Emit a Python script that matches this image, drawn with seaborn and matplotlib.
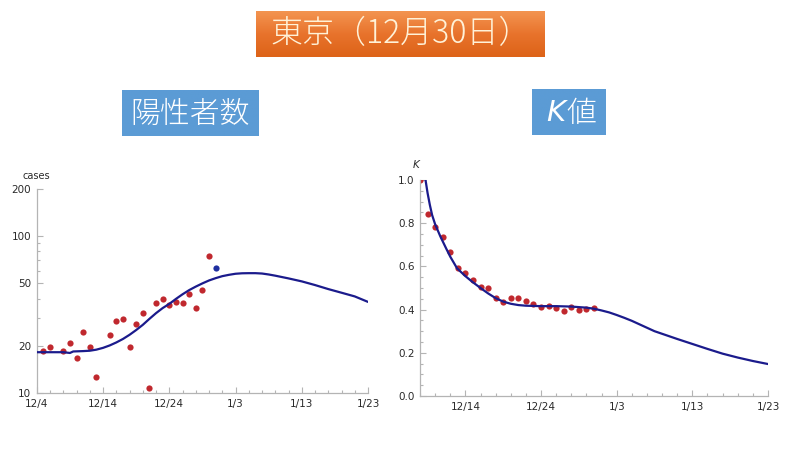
import numpy as np
import pandas as pd
import matplotlib
matplotlib.use("Agg")
import matplotlib.pyplot as plt
import matplotlib.ticker as mticker
from matplotlib.colors import LinearSegmentedColormap
import seaborn as sns

# ---------------- data (day 0 = 12/4) ----------------
case_days = [1, 2, 4, 5, 6, 7, 8, 9, 11, 12, 13, 14, 15, 16, 17, 18, 19, 20, 21, 22, 23, 24, 25, 26]
case_vals = [18.4, 19.7, 18.4, 20.7, 16.6, 24.6, 19.7, 12.6, 23.4, 28.8, 29.6, 19.7, 27.4, 32.5,
             10.8, 37.4, 39.5, 36.3, 38.2, 37.4, 42.5, 34.6, 45.3, 75.0]
latest_day = [27]
latest_val = [63.1]

fit_days = [0, 2, 4, 5, 5.5, 7, 8, 9, 10, 11, 12, 13, 14, 15, 16, 17, 18, 19, 20, 21, 22, 23, 24,
            25, 26, 27, 28, 29, 30, 31, 32, 33, 34, 35, 36, 38, 40, 42, 44, 46, 48, 50]
fit_vals = [18.2, 18.2, 18.2, 18.0, 18.4, 18.5, 18.6, 18.9, 19.4, 20.1, 21.0, 22.1, 23.5, 25.2,
            27.2, 29.7, 32.3, 34.8, 37.0, 39.8, 42.6, 45.3, 47.7, 50.0, 52.2, 54.0, 55.6, 56.7,
            57.6, 58.0, 58.1, 58.1, 57.8, 57.0, 56.0, 53.8, 51.5, 48.8, 46.0, 43.6, 41.3, 38.1]

k_days = [4, 5, 6, 7, 8, 9, 10, 11, 12, 13, 14, 15, 16, 17, 18, 19, 20, 21, 22, 23, 24, 25, 26, 27]
k_vals = [1.0, 0.841, 0.784, 0.736, 0.665, 0.591, 0.571, 0.537, 0.505, 0.500, 0.452, 0.437, 0.454,
          0.454, 0.441, 0.426, 0.410, 0.417, 0.406, 0.395, 0.412, 0.397, 0.401, 0.407]

kfit_days = [4.73, 5.0, 5.3, 5.6, 6.0, 6.7, 7.5, 8.0, 8.9, 10, 10.9, 12, 13, 14, 15, 16, 17, 18, 20,
             22, 24, 26, 27, 28, 29, 30, 31, 32, 33, 34, 35, 36, 37, 38, 40, 42, 44, 46, 48, 50]
kfit_vals = [1.0, 0.94, 0.885, 0.838, 0.795, 0.738, 0.68, 0.645, 0.591, 0.555, 0.529, 0.50, 0.475,
             0.453, 0.437, 0.427, 0.421, 0.418, 0.416, 0.416, 0.414, 0.409, 0.404, 0.396, 0.387,
             0.375, 0.362, 0.348, 0.332, 0.316, 0.30, 0.288, 0.276, 0.264, 0.241, 0.218, 0.196,
             0.178, 0.162, 0.148]

left_tick_days = [0, 10, 20, 30, 40, 50]
left_tick_labels = ["12/4", "12/14", "12/24", "1/3", "1/13", "1/23"]
right_tick_days = [10, 20, 30, 40, 50]
right_tick_labels = ["12/14", "12/24", "1/3", "1/13", "1/23"]
case_yticks = [10, 20, 50, 100, 200]
k_yticks = [0.0, 0.2, 0.4, 0.6, 0.8, 1.0]

title_text = "東京（12月30日）"
left_title = "陽性者数"
right_title_k = "K"
right_title_rest = "値"

# ---------------- style ----------------
sns.set_theme(style="white")
plt.rcParams['font.family'] = ['DejaVu Sans', 'Noto Sans CJK JP']
RED = "#C0282E"
NAVY = "#1B1B8C"
BLUE_DOT = "#1F2FA0"
AXC = "#B4B4B4"
TXT = "#2A2A2A"

fig = plt.figure(figsize=(8, 4.5), dpi=100)
fig.patch.set_facecolor("white")

def style_axes(ax):
    for s in ["top", "right"]:
        ax.spines[s].set_visible(False)
    for s in ["left", "bottom"]:
        ax.spines[s].set_color(AXC)
        ax.spines[s].set_linewidth(0.9)
    ax.tick_params(which="both", direction="in", color=AXC, labelcolor=TXT,
                   labelsize=7.5, width=0.8, bottom=True, left=True, top=False, right=False)
    ax.tick_params(which="major", length=4, pad=4)
    ax.tick_params(which="minor", length=2)
    ax.grid(False)
    ax.set_facecolor("white")

# ---------------- left chart ----------------
axL = fig.add_axes([0.046, 0.1267, 0.414, 0.4533])
df_fit = pd.DataFrame({"day": fit_days, "val": fit_vals})
df_case = pd.DataFrame({"day": case_days, "val": case_vals})
df_last = pd.DataFrame({"day": latest_day, "val": latest_val})
sns.scatterplot(data=df_case, x="day", y="val", ax=axL, color=RED, s=20, linewidth=0, zorder=2)
sns.scatterplot(data=df_last, x="day", y="val", ax=axL, color=BLUE_DOT, s=20, linewidth=0, zorder=2)
sns.lineplot(data=df_fit, x="day", y="val", ax=axL, color=NAVY, linewidth=1.6, zorder=3)
axL.set_yscale("log")
axL.set_xlim(0, 50)
axL.set_ylim(10, 200)
axL.set_xticks(left_tick_days)
axL.set_xticklabels(left_tick_labels)
axL.xaxis.set_minor_locator(mticker.MultipleLocator(2))
axL.set_yticks(case_yticks)
axL.yaxis.set_major_formatter(mticker.FixedFormatter([str(v) for v in case_yticks]))
axL.yaxis.set_minor_locator(mticker.LogLocator(base=10, subs=np.arange(2, 10)))
axL.yaxis.set_minor_formatter(mticker.NullFormatter())
axL.set_xlabel("")
axL.set_ylabel("")
style_axes(axL)
fig.text(36.5 / 800, 1 - 176 / 450, "cases", ha="center", va="center", fontsize=7, color=TXT)

# ---------------- right chart ----------------
axR = fig.add_axes([0.525, 0.12, 0.435, 0.48])
df_k = pd.DataFrame({"day": k_days, "val": k_vals})
df_kfit = pd.DataFrame({"day": kfit_days, "val": kfit_vals})
sns.scatterplot(data=df_k, x="day", y="val", ax=axR, color=RED, s=20, linewidth=0, zorder=2)
sns.lineplot(data=df_kfit, x="day", y="val", ax=axR, color=NAVY, linewidth=1.6, zorder=3)
axR.set_xlim(4, 50)
axR.set_ylim(0, 1.0)
axR.set_xticks(right_tick_days)
axR.set_xticklabels(right_tick_labels)
axR.xaxis.set_minor_locator(mticker.MultipleLocator(2))
axR.set_yticks(k_yticks)
axR.set_yticklabels([f"{v:.1f}" for v in k_yticks])
axR.yaxis.set_minor_locator(mticker.MultipleLocator(0.05))
axR.set_xlabel("")
axR.set_ylabel("")
style_axes(axR)
fig.text(416 / 800, 1 - 165 / 450, "K", ha="center", va="center", fontsize=7.5,
         color=TXT, style="italic")

# ---------------- title boxes ----------------
def box(x0, y0, x1, y1, colors):
    ax = fig.add_axes([x0 / 800, 1 - y1 / 450, (x1 - x0) / 800, (y1 - y0) / 450])
    cmap = LinearSegmentedColormap.from_list("g", colors)
    grad = np.linspace(0, 1, 64).reshape(-1, 1)
    ax.imshow(grad, aspect="auto", cmap=cmap, extent=[0, 1, 0, 1], origin="upper")
    ax.set_axis_off()
    return ax

axT = box(256, 11, 545, 57, ["#F39450", "#E8732C", "#DD6318"])
axT.text(0.5, 0.5, title_text, ha="center", va="center", fontsize=23, color="#FFF2D8",
         family=["Noto Sans CJK JP", "DejaVu Sans"], fontweight="light", transform=axT.transAxes)

axB1 = box(122, 90, 259, 136, ["#5B9BD5", "#5B9BD5"])
axB1.text(0.5, 0.47, left_title, ha="center", va="center", fontsize=21.5, color="white",
          family=["Noto Sans CJK JP", "DejaVu Sans"], fontweight="light", transform=axB1.transAxes)

axB2 = box(532, 89, 605, 135, ["#5B9BD5", "#5B9BD5"])
axB2.text(0.33, 0.48, right_title_k, ha="center", va="center", fontsize=21, color="white",
          family=["DejaVu Sans"], style="italic", transform=axB2.transAxes)
axB2.text(0.67, 0.47, right_title_rest, ha="center", va="center", fontsize=21.5, color="white",
          family=["Noto Sans CJK JP", "DejaVu Sans"], fontweight="light", transform=axB2.transAxes)

fig.savefig("out.png", dpi=100, facecolor="white")
